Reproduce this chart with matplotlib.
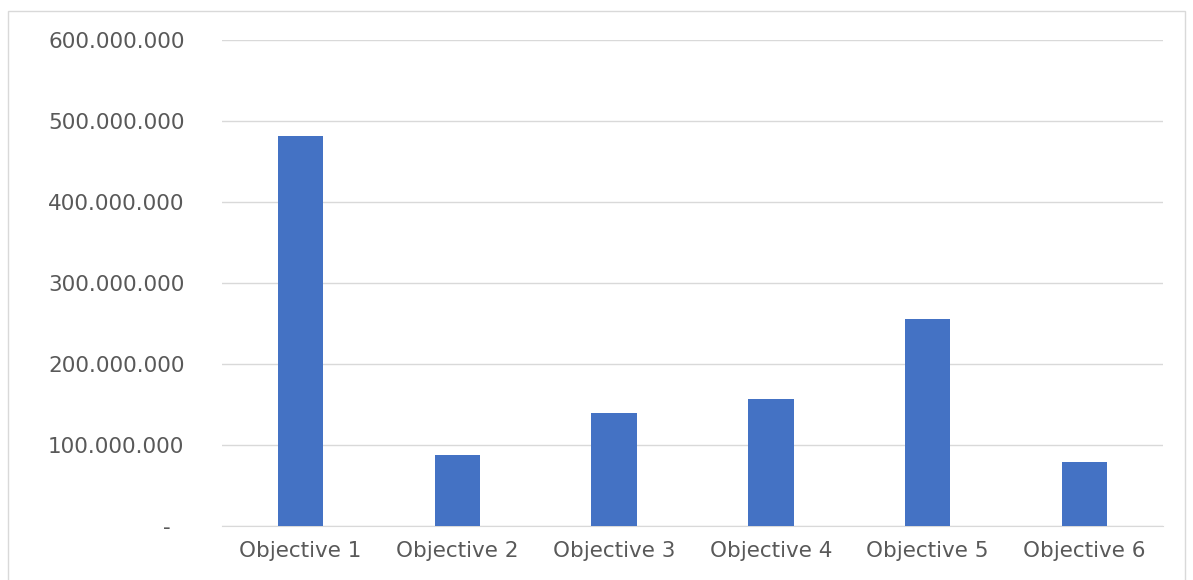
import matplotlib
matplotlib.use("Agg")
import matplotlib.pyplot as plt
from matplotlib.patches import Rectangle
from matplotlib.ticker import FuncFormatter

categories = ["Objective 1", "Objective 2", "Objective 3", "Objective 4", "Objective 5", "Objective 6"]
values = [481_500_000, 87_500_000, 139_000_000, 157_000_000, 255_500_000, 79_000_000]
y_ticks = [0, 100_000_000, 200_000_000, 300_000_000, 400_000_000, 500_000_000, 600_000_000]

plt.rcParams['font.family'] = ['DejaVu Sans']

fig = plt.figure(figsize=(11.93, 5.8), dpi=100)
ax = fig.add_axes([222/1193, 1-526/580, (1163-222)/1193, (526-40)/580])

x = list(range(len(categories)))
ax.bar(x, values, width=0.29, color="#4472C4", zorder=3)

ax.set_xlim(-0.5, len(categories) - 0.5)
ax.set_ylim(0, 600_000_000)
ax.set_yticks(y_ticks)

def fmt(v, pos):
    if v == 0:
        return "-  "
    return f"{int(v):,}".replace(",", ".")

ax.yaxis.set_major_formatter(FuncFormatter(fmt))
ax.set_xticks(x)
ax.set_xticklabels(categories)

ax.grid(axis="y", color="#d9d9d9", linewidth=1.0, zorder=0)
for s in ["top", "right", "left"]:
    ax.spines[s].set_visible(False)
ax.spines["bottom"].set_color("#d9d9d9")
ax.tick_params(axis="both", length=0, colors="#595959", labelsize=15.5)
ax.tick_params(axis="y", pad=27)
ax.tick_params(axis="x", pad=11)

fig.patches.append(Rectangle((8/1193, -0.01), (1185-8)/1193, 1-11/580 + 0.01,
                             transform=fig.transFigure, fill=False,
                             edgecolor="#d9d9d9", linewidth=1.0))

fig.savefig("out.png", dpi=100)
